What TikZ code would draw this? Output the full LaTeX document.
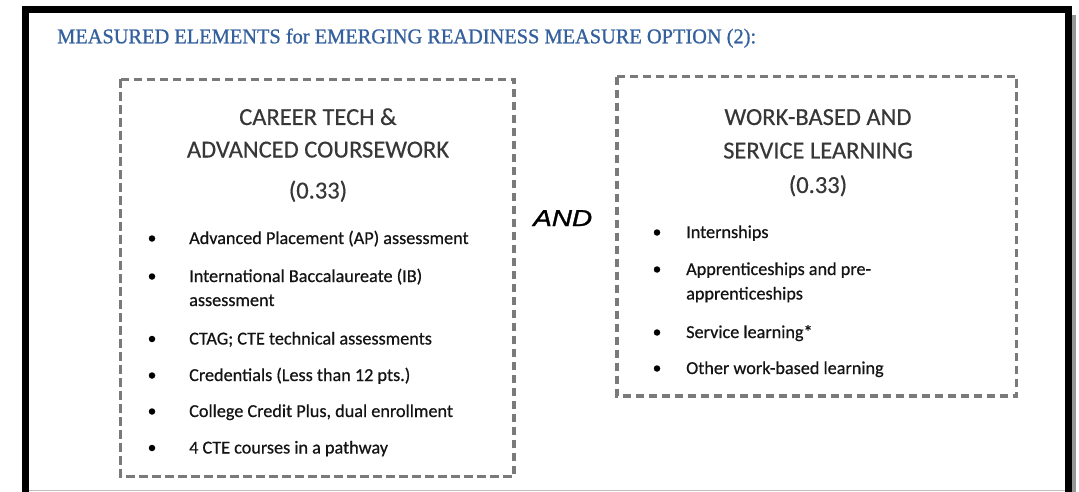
\documentclass[tikz,border=0pt]{standalone}
\usepackage{fontspec}
\usepackage{graphicx}
\setmainfont{Carlito}
\newfontfamily\itemfont[FakeBold=0.6]{Carlito}
\newfontfamily\headfont[FakeBold=0.3]{Carlito}
\newfontfamily\titlefont[FakeBold=0.9]{Liberation Serif}
\newfontfamily\andfont[FakeBold=1.2]{Liberation Sans}
\definecolor{titleblue}{RGB}{52,96,158}
\definecolor{headgrey}{RGB}{55,55,55}
\definecolor{itemgrey}{RGB}{20,20,20}
\definecolor{dashgrey}{RGB}{122,122,122}
\definecolor{shadowgrey}{RGB}{150,150,150}
\tikzset{
  dashbox/.style={draw=dashgrey, line width=3.2pt, dash pattern=on 8.5pt off 4.5pt, fill=none},
  headtext/.style={anchor=base, inner sep=0pt, text=headgrey, font=\headfont\fontsize{24.5}{29}\selectfont},
  itemtext/.style={anchor=base west, inner sep=0pt, text=itemgrey, font=\itemfont\fontsize{18.2}{22}\selectfont},
  bulletdot/.style={circle, fill=black, inner sep=0pt, minimum size=6.5pt},
}
\begin{document}
\begin{tikzpicture}[x=1pt,y=-1pt]
\useasboundingbox (0,0) rectangle (1079,492);
\fill[white] (0,0) rectangle (1079,492);
% frame
\fill[shadowgrey] (1071,15) rectangle (1076,492);
\fill[black] (22,6) rectangle (1072,13);
\fill[black] (22,6) rectangle (29,492);
\fill[black] (1065,6) rectangle (1072,492);
\draw[gray!50, line width=1pt] (29,490.5) -- (1065,490.5);
% title
\node[anchor=base west, inner sep=0pt, text=titleblue] (title) at (57,43.3)
  {\resizebox{699pt}{\height}{\titlefont\fontsize{21}{25}\selectfont MEASURED ELEMENTS for EMERGING READINESS MEASURE OPTION (2):}};
% boxes
\draw[dashbox] (120.7,79.3) rectangle (514,476.7);
\draw[dashbox] (617,76.7) rectangle (1016.7,396);
% left headings
\node[headtext] (lh1) at (318,125) {CAREER TECH \&};
\node[headtext] (lh2) at (318,157.5) {ADVANCED COURSEWORK};
\node[headtext] (lh3) at (318,198.5) {(0.33)};
% right headings
\node[headtext] (rh1) at (818,125) {WORK-BASED AND};
\node[headtext] (rh2) at (818,158.5) {SERVICE LEARNING};
\node[headtext] (rh3) at (818,193) {(0.33)};
% AND
\node[anchor=base west, inner sep=0pt, text=black] (and) at (533,226)
  {\resizebox{59pt}{\height}{\andfont\itshape\fontsize{23}{27}\selectfont AND}};
% left items
\node[bulletdot] (lb1) at (152,238.5) {};
\node[itemtext] (li1) at (189,244) {Advanced Placement (AP) assessment};
\node[bulletdot] (lb2) at (152,276.5) {};
\node[itemtext] (li2) at (189,282) {International Baccalaureate (IB)};
\node[itemtext] (li2b) at (189,306) {assessment};
\node[bulletdot] (lb3) at (152,339) {};
\node[itemtext] (li3) at (189,344.5) {CTAG; CTE technical assessments};
\node[bulletdot] (lb4) at (152,375.5) {};
\node[itemtext] (li4) at (189,381) {Credentials (Less than 12 pts.)};
\node[bulletdot] (lb5) at (152,411.5) {};
\node[itemtext] (li5) at (189,417) {College Credit Plus, dual enrollment};
\node[bulletdot] (lb6) at (152,448) {};
\node[itemtext] (li6) at (189,453.5) {4 CTE courses in a pathway};
% right items
\node[bulletdot] (rb1) at (657,232.5) {};
\node[itemtext] (ri1) at (686,238) {Internships};
\node[bulletdot] (rb2) at (657,269.5) {};
\node[itemtext] (ri2) at (686,275) {Apprenticeships and pre-};
\node[itemtext] (ri2b) at (686,299.5) {apprenticeships};
\node[bulletdot] (rb3) at (657,332.5) {};
\node[itemtext] (ri3) at (686,338) {Service learning*};
\node[bulletdot] (rb4) at (657,368.5) {};
\node[itemtext] (ri4) at (686,374) {Other work-based learning};
\end{tikzpicture}
\end{document}
